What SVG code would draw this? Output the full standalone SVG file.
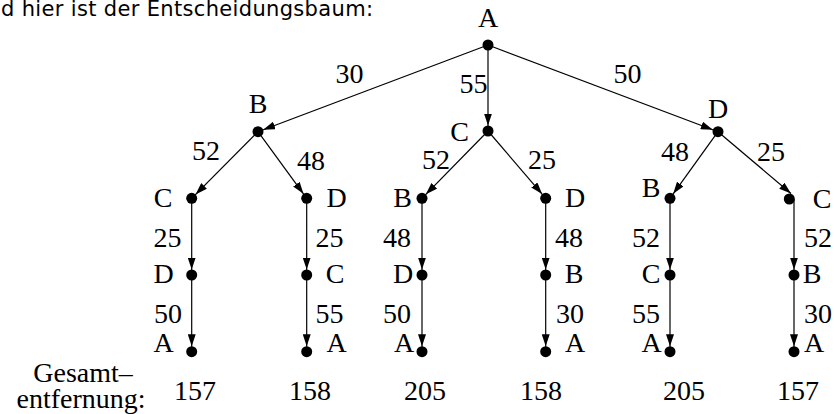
<svg xmlns="http://www.w3.org/2000/svg" width="834" height="414" viewBox="0 0 834 414">
<defs>
<style>
.t{font-family:"Liberation Serif","Times New Roman",serif;font-size:28px;fill:#000;text-anchor:middle}
.s{font-family:"DejaVu Sans","Liberation Sans",sans-serif;font-size:21px;fill:#000}
.e{stroke:#000;stroke-width:1.2;fill:none;marker-end:url(#ah)}
.e2{stroke:#000;stroke-width:1.2;fill:none;marker-end:url(#ah0)}
.d{fill:#000}
</style>
<marker id="ah" markerUnits="userSpaceOnUse" markerWidth="18" markerHeight="8" refX="17.5" refY="4" orient="auto">
<path d="M0,0 L12,4 L0,8 z" fill="#000"/>
</marker>
<marker id="ah0" markerUnits="userSpaceOnUse" markerWidth="12" markerHeight="8" refX="12" refY="4" orient="auto">
<path d="M0,0 L12,4 L0,8 z" fill="#000"/>
</marker>
</defs>
<rect width="834" height="414" fill="#fff"/>
<text class="s" x="1" y="16" textLength="372" lengthAdjust="spacing">d hier ist der Entscheidungsbaum:</text>

<g id="connectors">
<line class="e" x1="488" y1="45" x2="258" y2="131.7"/>
<line class="e" x1="488" y1="45" x2="488" y2="131"/>
<line class="e" x1="488" y1="45" x2="718" y2="131.7"/>
<line class="e" x1="258" y1="131.7" x2="191.7" y2="198.3"/>
<line class="e" x1="258" y1="131.7" x2="306.7" y2="198.3"/>
<line class="e" x1="488" y1="131" x2="422" y2="198.3"/>
<line class="e" x1="488" y1="131" x2="545.7" y2="198.3"/>
<line class="e" x1="718" y1="131.7" x2="670" y2="198.3"/>
<line class="e2" x1="718" y1="131.7" x2="791" y2="193.5"/>
<line class="e" x1="191.7" y1="198.3" x2="191.7" y2="275"/>
<line class="e" x1="191.7" y1="275" x2="191.7" y2="351.7"/>
<line class="e" x1="306.7" y1="198.3" x2="306.7" y2="275"/>
<line class="e" x1="306.7" y1="275" x2="306.7" y2="351.7"/>
<line class="e" x1="422" y1="198.3" x2="422" y2="275"/>
<line class="e" x1="422" y1="275" x2="422" y2="351.7"/>
<line class="e" x1="545.7" y1="198.3" x2="545.7" y2="275"/>
<line class="e" x1="545.7" y1="275" x2="545.7" y2="351.7"/>
<line class="e" x1="670" y1="198.3" x2="670" y2="275"/>
<line class="e" x1="670" y1="275" x2="670" y2="351.7"/>
<line class="e" x1="794" y1="199" x2="794" y2="275"/>
<line class="e" x1="794" y1="275" x2="794" y2="351.7"/>
</g>

<g id="edge-labels">
<text class="t" x="349.5" y="83">30</text>
<text class="t" x="473.5" y="93">55</text>
<text class="t" x="627.5" y="83">50</text>
<text class="t" x="206" y="160">52</text>
<text class="t" x="311" y="170">48</text>
<text class="t" x="436" y="169">52</text>
<text class="t" x="542" y="169">25</text>
<text class="t" x="675" y="161">48</text>
<text class="t" x="771" y="161">25</text>
<text class="t" x="167.5" y="246.7">25</text>
<text class="t" x="329.5" y="246.7">25</text>
<text class="t" x="397" y="246.7">48</text>
<text class="t" x="569" y="246.7">48</text>
<text class="t" x="646" y="246.7">52</text>
<text class="t" x="818" y="246.7">52</text>
<text class="t" x="168" y="323">50</text>
<text class="t" x="329.5" y="323">55</text>
<text class="t" x="397" y="323">50</text>
<text class="t" x="570" y="323">30</text>
<text class="t" x="646" y="323">55</text>
<text class="t" x="818" y="323">30</text>
</g>

<g id="n-A"><circle class="d" cx="488" cy="45" r="5.5"/><text class="t" x="488" y="27">A</text></g>
<g id="n-B"><circle class="d" cx="258" cy="131.7" r="5.5"/><text class="t" x="258" y="113">B</text></g>
<g id="n-C"><circle class="d" cx="488" cy="131" r="5.5"/><text class="t" x="459.7" y="141">C</text></g>
<g id="n-D"><circle class="d" cx="718" cy="131.7" r="5.5"/><text class="t" x="718" y="118">D</text></g>

<g id="n-BC"><circle class="d" cx="191.7" cy="198.3" r="5.5"/><text class="t" x="163" y="206.7">C</text></g>
<g id="n-BD"><circle class="d" cx="306.7" cy="198.3" r="5.5"/><text class="t" x="336.7" y="206.7">D</text></g>
<g id="n-CB"><circle class="d" cx="422" cy="198.3" r="5.5"/><text class="t" x="402.5" y="206.7">B</text></g>
<g id="n-CD"><circle class="d" cx="545.7" cy="198.3" r="5.5"/><text class="t" x="575" y="206.7">D</text></g>
<g id="n-DB"><circle class="d" cx="670" cy="198.3" r="5.5"/><text class="t" x="651" y="196.7">B</text></g>
<g id="n-DC"><circle class="d" cx="789.3" cy="199" r="5.5"/><text class="t" x="822" y="208">C</text></g>

<g id="n-BCD"><circle class="d" cx="191.7" cy="275" r="5.5"/><text class="t" x="163.5" y="283.3">D</text></g>
<g id="n-BDC"><circle class="d" cx="306.7" cy="275" r="5.5"/><text class="t" x="335" y="283.3">C</text></g>
<g id="n-CBD"><circle class="d" cx="422" cy="275" r="5.5"/><text class="t" x="403" y="283.3">D</text></g>
<g id="n-CDB"><circle class="d" cx="545.7" cy="275" r="5.5"/><text class="t" x="574" y="283.3">B</text></g>
<g id="n-DBC"><circle class="d" cx="670" cy="275" r="5.5"/><text class="t" x="651" y="283.3">C</text></g>
<g id="n-DCB"><circle class="d" cx="794" cy="275" r="5.5"/><text class="t" x="812" y="283.3">B</text></g>

<g id="n-BCDA"><circle class="d" cx="191.7" cy="351.7" r="5.5"/><text class="t" x="163.5" y="351.7">A</text></g>
<g id="n-BDCA"><circle class="d" cx="306.7" cy="351.7" r="5.5"/><text class="t" x="336.7" y="351.7">A</text></g>
<g id="n-CBDA"><circle class="d" cx="422" cy="351.7" r="5.5"/><text class="t" x="404" y="351.7">A</text></g>
<g id="n-CDBA"><circle class="d" cx="545.7" cy="351.7" r="5.5"/><text class="t" x="575" y="351.7">A</text></g>
<g id="n-DBCA"><circle class="d" cx="670" cy="351.7" r="5.5"/><text class="t" x="651.7" y="351.7">A</text></g>
<g id="n-DCBA"><circle class="d" cx="794" cy="351.7" r="5.5"/><text class="t" x="814" y="351.7">A</text></g>

<g id="totals">
<text class="t" x="83" y="382">Gesamt–</text>
<text class="t" x="81" y="408">entfernung:</text>
<text class="t" x="195" y="400">157</text>
<text class="t" x="310" y="400">158</text>
<text class="t" x="425" y="400">205</text>
<text class="t" x="541" y="400">158</text>
<text class="t" x="684" y="400">205</text>
<text class="t" x="798" y="400">157</text>
</g>
</svg>
